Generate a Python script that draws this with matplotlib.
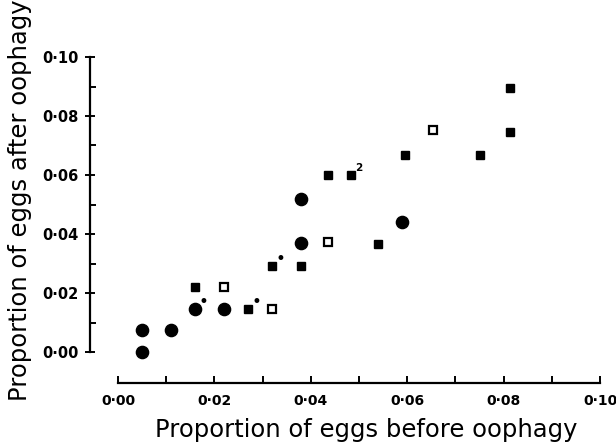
import numpy as np
import matplotlib
matplotlib.use("Agg")
from matplotlib import pyplot as plt
from matplotlib.ticker import FixedLocator, FixedFormatter

# cercles pleins
circ_x = [0.005, 0.005, 0.011, 0.016, 0.022, 0.038, 0.038, 0.059]
circ_y = [0.000, 0.0075, 0.0075, 0.0145, 0.0145, 0.037, 0.052, 0.044]

# carres pleins
sq_x = [0.016, 0.027, 0.032, 0.038, 0.0435, 0.0483, 0.054, 0.0595, 0.0752, 0.0813, 0.0813]
sq_y = [0.022, 0.0145, 0.029, 0.029, 0.060, 0.060, 0.0365, 0.0668, 0.0668, 0.0745, 0.0895]

# carres vides
open_x = [0.022, 0.032, 0.0435, 0.0654]
open_y = [0.022, 0.0145, 0.0373, 0.0753]

# petites marques a cote des points
marques_x = [0.016, 0.027, 0.032]
marques_y = [0.0145, 0.0145, 0.029]
sup_x = [0.0483]
sup_y = [0.060]
sup_txt = ["2"]

ticks = [0.00, 0.02, 0.04, 0.06, 0.08, 0.10]
labels_x = ["0·00", "0·02", "0·04", "0·06", "0·08", "0·10"]
labels_y = ["0·00", "0·02", "0·04", "0·06", "0·08", "0·10"]
minor = [0.01, 0.03, 0.05, 0.07, 0.09]

W, H = 616, 445
fig = plt.figure(figsize=(W / 100, H / 100), dpi=100)
ax = fig.add_axes([118 / W, 1 - 352 / H, (600 - 118) / W, (352 - 57) / H])
ax.set_xlim(0, 0.10)
ax.set_ylim(0, 0.10)

ax.plot(circ_x, circ_y, "o", color="k", markersize=8.8, clip_on=False)
ax.plot(sq_x, sq_y, "s", color="k", markersize=5.8, clip_on=False)
ax.plot(open_x, open_y, "s", mfc="white", mec="k", mew=1.6, markersize=5.6, clip_on=False)

for x, y in zip(marques_x, marques_y):
    ax.annotate("•", (x, y), xytext=(6, 5.5), textcoords="offset points",
                fontsize=12, ha="center", va="center")
for x, y, t in zip(sup_x, sup_y, sup_txt):
    ax.annotate(t, (x, y), xytext=(6, 5), textcoords="offset points",
                fontsize=7.5, fontweight="bold", ha="center", va="center")

for s in ["top", "right"]:
    ax.spines[s].set_visible(False)
ax.spines["left"].set_position(("outward", 28 * 0.72))
ax.spines["bottom"].set_position(("outward", 31 * 0.72))
ax.spines["left"].set_linewidth(1.6)
ax.spines["bottom"].set_linewidth(1.6)

ax.xaxis.set_major_locator(FixedLocator(ticks))
ax.xaxis.set_major_formatter(FixedFormatter(labels_x))
ax.xaxis.set_minor_locator(FixedLocator(minor))
ax.yaxis.set_major_locator(FixedLocator(ticks))
ax.yaxis.set_major_formatter(FixedFormatter(labels_y))
ax.yaxis.set_minor_locator(FixedLocator(minor))

ax.tick_params(axis="x", which="both", direction="in", length=5, width=1.4, pad=8, labelsize=10)
ax.tick_params(axis="y", which="major", direction="inout", length=7, width=1.4, pad=5, labelsize=10.5)
ax.tick_params(axis="y", which="minor", direction="in", length=4, width=1.4)
for lab in ax.get_xticklabels() + ax.get_yticklabels():
    lab.set_fontweight("bold")

fig.text(366 / W, 1 - 430 / H, "Proportion of eggs before oophagy", ha="center", va="center", fontsize=17.5)
fig.text(20 / W, 1 - 200 / H, "Proportion of eggs after oophagy", ha="center", va="center",
         rotation=90, fontsize=17.5)

fig.savefig("out.png", dpi=100)
